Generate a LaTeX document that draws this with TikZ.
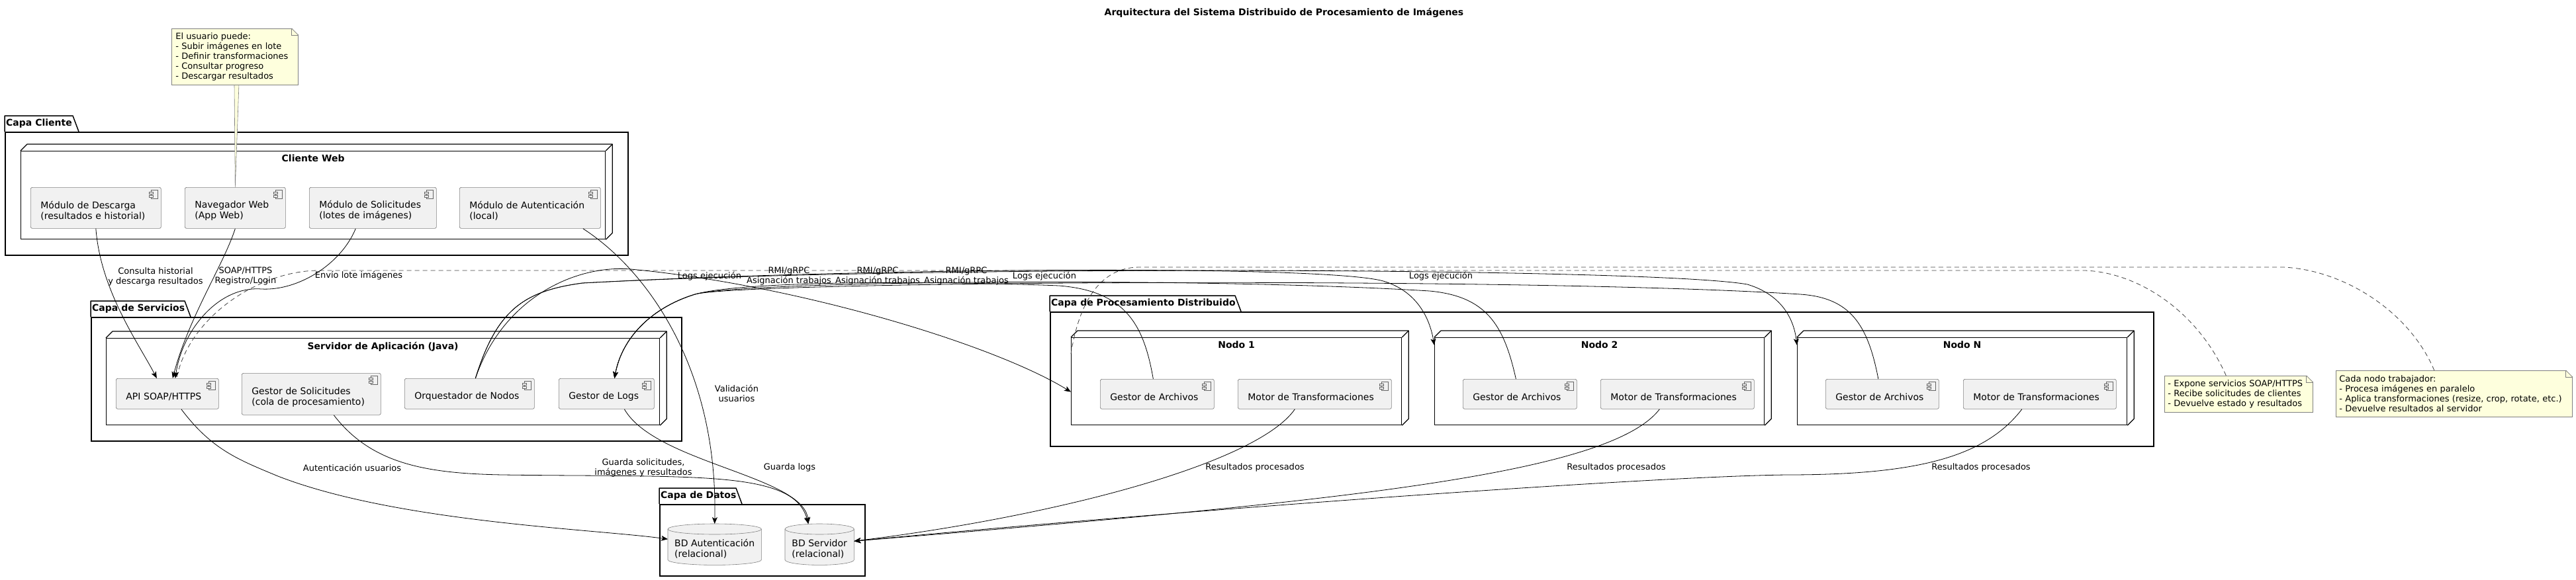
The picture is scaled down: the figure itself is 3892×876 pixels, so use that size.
\documentclass[tikz,border=0pt]{standalone}
\usepackage{fontspec}
\setmainfont{DejaVu Sans}
\usetikzlibrary{calc, positioning, arrows.meta, backgrounds}

\definecolor{compfill}{HTML}{F1F1F1}
\definecolor{notefill}{HTML}{FEFFDD}

% icono de componente
\newcommand{\compicon}[1]{%
  \draw[black!60, fill=compfill, line width=0.6pt] ($(#1.north east)+(-15,4)$) rectangle ++(10,13);
  \draw[black!60, fill=compfill, line width=0.6pt] ($(#1.north east)+(-18,7)$) rectangle ++(6,3);
  \draw[black!60, fill=compfill, line width=0.6pt] ($(#1.north east)+(-18,12)$) rectangle ++(6,3);
}
% caja 3D de nodo
\newcommand{\nodedepth}[1]{%
  \draw[line width=1.2pt, line join=round] (#1.north west) -- ++(10,-10)
    -- ($(#1.north east)+(10,-10)$) -- ($(#1.south east)+(10,-10)$) -- (#1.south east);
  \draw[line width=1.2pt] (#1.north east) -- ++(10,-10);
}
% pestana de paquete
\newcommand{\pkgtab}[2]{%
  \draw[line width=1.5pt, line join=round] (#1.north west) -- ++(0,-24) -- ++(#2-9,0) -- ++(9,24);
}
% esquina doblada de nota
\newcommand{\notefold}[1]{%
  \fill[white] ($(#1.north east)+(-10,-1)$) -- ($(#1.north east)+(1,-1)$) -- ($(#1.north east)+(1,10)$) -- cycle;
  \draw[black!50, line width=0.6pt] ($(#1.north east)+(-10,0)$) -- ($(#1.north east)+(0,10)$) -- (#1.south east);
  \draw[black!50, line width=0.6pt] ($(#1.north east)+(-10,0)$) |- ($(#1.north east)+(0,10)$);
}
% cilindro de base de datos
\newcommand{\dbcyl}[1]{%
  \begin{scope}[on background layer]
    \filldraw[fill=compfill, draw=black!50, line width=0.6pt] let \p1=($(#1.north east)-(#1.north west)$) in
      ($(#1.north west)+(0,-6)$) -- ($(#1.south west)+(0,-8)$)
      arc[start angle=180, end angle=360, x radius=0.5*\x1, y radius=8pt]
      -- ($(#1.north east)+(0,-6)$)
      arc[start angle=0, end angle=180, x radius=0.5*\x1, y radius=8pt] -- cycle;
    \draw[black!50, line width=0.6pt] let \p1=($(#1.north east)-(#1.north west)$) in
      ($(#1.north west)+(0,-6)$) arc[start angle=180, end angle=360, x radius=0.5*\x1, y radius=8pt];
  \end{scope}
}

\begin{document}
\begin{tikzpicture}[x=1pt, y=-1pt,
  comp/.style={draw=black!50, fill=compfill, line width=0.7pt, rounded corners=2.5pt, anchor=north west,
    align=left, inner xsep=15pt, inner ysep=0pt, font=\fontsize{14}{16}\selectfont,
    execute at begin node={\rule{0pt}{20pt}}},
  nodebox/.style={draw, line width=1.2pt, anchor=north west},
  nodetitle/.style={font=\bfseries\fontsize{14}{16}\selectfont, inner sep=0pt},
  pkgframe/.style={draw, line width=1.5pt, anchor=north west},
  pkglabel/.style={font=\bfseries\fontsize{14}{16}\selectfont, inner sep=0pt, anchor=west},
  note/.style={draw=black!50, fill=notefill, line width=0.6pt, anchor=north west, align=left,
    inner xsep=6pt, inner ysep=0pt, font=\fontsize{13}{15}\selectfont},
  dbnode/.style={anchor=north west, align=left, inner sep=0pt, font=\fontsize{14}{16}\selectfont},
  lbl/.style={font=\fontsize{13}{15}\selectfont, align=center, inner sep=0pt},
  link/.style={line width=0.8pt, -{Stealth[length=10pt, width=8pt, inset=2.5pt]}},
  notelink/.style={line width=0.8pt, black!75, dash pattern=on 7pt off 5pt},
]
\useasboundingbox (0,0) rectangle (3892,876);

\node[font=\bfseries\fontsize{14}{16}\selectfont] (titulo) at (1940,19)
  {Arquitectura del Sistema Distribuido de Procesamiento de Imágenes};

% Capa Cliente
\node[pkgframe, minimum width=941pt, minimum height=186pt] (capaCliente) at (7,199) {};
\pkgtab{capaCliente}{112}
\node[pkglabel] (capaClienteL) at ($(capaCliente.north west)+(2,-12)$) {Capa Cliente};
\node[nodebox, minimum width=883pt, minimum height=133pt] (cweb) at (31,228) {};
\nodedepth{cweb}
\node[nodetitle, below=6pt of cweb.north] (cwebT) {Cliente Web};
\node[comp, minimum width=197pt, minimum height=62pt, text width=167pt] (descarga) at (46,283)
  {Módulo de Descarga\\(resultados e historial)};
\node[comp, minimum width=152pt, minimum height=62pt, text width=122pt] (navegador) at (279,283)
  {Navegador Web\\(App Web)};
\node[comp, minimum width=192pt, minimum height=62pt, text width=162pt] (solicitudes) at (467,283)
  {Módulo de Solicitudes\\(lotes de imágenes)};
\node[comp, minimum width=213pt, minimum height=62pt, text width=183pt] (autenticacion) at (694,283)
  {Módulo de Autenticación\\(local)};

% Capa de Servicios
\node[pkgframe, minimum width=892pt, minimum height=187pt] (capaServicios) at (137,479) {};
\pkgtab{capaServicios}{151}
\node[pkglabel] (capaServiciosL) at ($(capaServicios.north west)+(2,-12)$) {Capa de Servicios};
\node[nodebox, minimum width=836pt, minimum height=131pt] (servidor) at (160,511) {};
\nodedepth{servidor}
\node[nodetitle, below=6pt of servidor.north] (servidorT) {Servidor de Aplicación (Java)};
\node[comp, minimum width=155pt, minimum height=46pt, text width=125pt] (api) at (175,572) {API SOAP/HTTPS};
\node[comp, minimum width=210pt, minimum height=63pt, text width=180pt] (gsolic) at (365,564)
  {Gestor de Solicitudes\\(cola de procesamiento)};
\node[comp, minimum width=196pt, minimum height=46pt, text width=166pt] (orq) at (611,572) {Orquestador de Nodos};
\node[comp, minimum width=144pt, minimum height=46pt, text width=114pt] (glogs) at (844,572) {Gestor de Logs};

% Capa de Procesamiento Distribuido
\node[pkgframe, minimum width=1667pt, minimum height=203pt] (capaProc) at (1586,471) {};
\pkgtab{capaProc}{289}
\node[pkglabel] (capaProcL) at ($(capaProc.north west)+(2,-12)$) {Capa de Procesamiento Distribuido};
\node[nodebox, minimum width=499pt, minimum height=132pt] (nodo1) at (1618,510) {};
\node[nodebox, minimum width=498pt, minimum height=132pt] (nodo2) at (2167,510) {};
\node[nodebox, minimum width=498pt, minimum height=132pt] (nodoN) at (2715,510) {};
\foreach \n in {nodo1, nodo2, nodoN} {\nodedepth{\n}}
\node[nodetitle, below=6pt of nodo1.north] (nodo1T) {Nodo 1};
\node[nodetitle, below=6pt of nodo2.north] (nodo2T) {Nodo 2};
\node[nodetitle, below=6pt of nodoN.north] (nodoNT) {Nodo N};
\node[comp, minimum width=172pt, minimum height=45pt, text width=142pt] (ga1) at (1662,573) {Gestor de Archivos};
\node[comp, minimum width=232pt, minimum height=45pt, text width=202pt] (motor1) at (1870,573) {Motor de Transformaciones};
\node[comp, minimum width=172pt, minimum height=45pt, text width=142pt] (ga2) at (2210,573) {Gestor de Archivos};
\node[comp, minimum width=232pt, minimum height=45pt, text width=202pt] (motor2) at (2418,573) {Motor de Transformaciones};
\node[comp, minimum width=171pt, minimum height=45pt, text width=141pt] (gaN) at (2758,573) {Gestor de Archivos};
\node[comp, minimum width=231pt, minimum height=45pt, text width=201pt] (motorN) at (2966,573) {Motor de Transformaciones};

\foreach \c in {descarga, navegador, solicitudes, autenticacion, api, gsolic, orq, glogs,
  ga1, motor1, ga2, motor2, gaN, motorN} {\compicon{\c}}

% Capa de Datos
\node[pkgframe, minimum width=310pt, minimum height=108pt] (capaDatos) at (996,762) {};
\pkgtab{capaDatos}{125}
\node[pkglabel] (capaDatosL) at ($(capaDatos.north west)+(2,-12)$) {Capa de Datos};
\node[dbnode, minimum width=141pt, minimum height=48pt] (bdauth) at (1009,806) {BD Autenticación\\(relacional)};
\node[dbnode, minimum width=104pt, minimum height=48pt] (bdserv) at (1186,806) {BD Servidor\\(relacional)};
\dbcyl{bdauth}
\dbcyl{bdserv}

% notas
\filldraw[fill=notefill, draw=black!50, line width=0.6pt] (354,127) -- (navegador.north) -- (361,127);
\node[note, minimum width=191pt, minimum height=85pt, text width=179pt] (note0) at (259,43)
  {El usuario puede:\\- Subir imágenes en lote\\- Definir transformaciones\\- Consultar progreso\\- Descargar resultados};
\node[note, minimum width=224pt, minimum height=55pt, text width=214pt, inner xsep=5pt] (note1) at (3270,568)
  {- Expone servicios SOAP/HTTPS\\- Recibe solicitudes de clientes\\- Devuelve estado y resultados};
\node[note, minimum width=357pt, minimum height=70pt, text width=347pt, inner xsep=5pt] (note2) at (3529,560)
  {Cada nodo trabajador:\\- Procesa imágenes en paralelo\\- Aplica transformaciones (resize, crop, rotate, etc.)\\- Devuelve resultados al servidor};
\foreach \m in {note0, note1, note2} {\notefold{\m}}

\draw[notelink] ($(note1.north)+(-19,0)$) .. controls (3320,470) and (3230,412) .. (3150,409)
  -- (480,409) .. controls (390,410) and (285,480) .. ($(api.north)+(14,0)$);
\draw[notelink] ($(note2.north)+(-30,0)$) .. controls (3640,470) and (3540,408) .. (3450,404)
  -- (1720,404) .. controls (1660,405) and (1630,460) .. ($(nodo1.north west)+(0,25)$);

% conexiones cliente - servicios
\draw[link] (descarga.south) .. controls (152,440) and (210,520) .. ($(api.north)+(-16,0)$);
\draw[link] (navegador.south) .. controls (338,400) and (285,480) .. ($(api.north)+(8,0)$);
\draw[link] ($(solicitudes.south)+(-26,0)$) .. controls (515,400) and (450,440) .. (395,437)
  .. controls (330,432) and (275,500) .. ($(api.north)+(12,0)$);
\draw[link] ($(autenticacion.south)+(80,0)$) .. controls (980,410) and (1085,560) .. ($(bdauth.north)+(0,-14)$);

\node[lbl] (lbConsulta) at (235,418) {Consulta historial\\y descarga resultados};
\node[lbl] (lbSoap) at (371,418) {SOAP/HTTPS\\Registro/Login};
\node[lbl] (lbEnvio) at (542,417) {Envío lote imágenes};
\node[lbl] (lbValida) at (1113,595) {Validación\\usuarios};

% orquestador - nodos
\draw[link] ($(orq.north)+(9,0)$) .. controls (760,450) and (870,400) .. (953,407)
  .. controls (1200,430) and (1500,520) .. ($(nodo1.west)+(0,16)$);
\draw[link] ($(orq.north)+(9,0)$) .. controls (750,470) and (790,440) .. (880,428)
  .. controls (1300,405) and (2000,400) .. (2090,425) .. controls (2140,440) and (2160,480) .. ($(nodo2.north west)+(0,12)$);
\draw[link] ($(orq.north)+(9,0)$) .. controls (750,470) and (790,440) .. (880,428)
  .. controls (1400,400) and (2500,405) .. (2640,430) .. controls (2690,445) and (2710,480) .. ($(nodoN.north west)+(0,12)$);

% logs de ejecucion
\draw[link] ($(ga1.north)+(-6,0)$) .. controls (1728,490) and (1700,440) .. (1600,432)
  .. controls (1400,424) and (1120,425) .. (1050,445) .. controls (985,465) and (940,510) .. ($(glogs.north)+(12,0)$);
\draw[link] ($(ga2.north)+(-6,0)$) .. controls (2272,490) and (2245,448) .. (2160,440)
  .. controls (1800,418) and (1120,425) .. (1050,445) .. controls (985,465) and (940,510) .. ($(glogs.north)+(12,0)$);
\draw[link] ($(gaN.north)+(-6,0)$) .. controls (2822,490) and (2795,450) .. (2720,445)
  .. controls (2300,418) and (1120,425) .. (1050,445) .. controls (985,465) and (940,510) .. ($(glogs.north)+(12,0)$);

\node[lbl] (lbLogs3) at (1072,418) {Logs ejecución};
\node[lbl] (lbRmi1) at (1192,418) {RMI/gRPC\\Asignación trabajos};
\node[lbl] (lbRmi2) at (1326,418) {RMI/gRPC\\Asignación trabajos};
\node[lbl] (lbRmi3) at (1460,418) {RMI/gRPC\\Asignación trabajos};
\node[lbl] (lbLogs1) at (1578,418) {Logs ejecución};
\node[lbl] (lbLogs2) at (2177,418) {Logs ejecución};

% servicios - datos
\draw[link] ($(api.south)+(21,0)$) .. controls (320,680) and (360,695) .. (420,720)
  .. controls (600,790) and (900,800) .. ($(bdauth.west)+(0,-15)$);
\draw[link] ($(gsolic.south)+(34,0)$) .. controls (560,700) and (640,716) .. (760,718)
  .. controls (1050,722) and (1200,710) .. ($(bdserv.north)+(-17,-14)$);
\draw[link] ($(glogs.south)+(27,0)$) .. controls (990,700) and (1215,720) .. ($(bdserv.north)+(-17,-14)$);

\node[lbl] (lbAuth) at (532,707) {Autenticación usuarios};
\node[lbl] (lbGuarda) at (972,707) {Guarda solicitudes,\\imágenes y resultados};
\node[lbl] (lbGLogs) at (1193,707) {Guarda logs};

% resultados de los nodos
\draw[link] ($(motor1.south)+(-30,0)$) .. controls (1900,700) and (1600,780) .. ($(bdserv.east)+(0,-12)$);
\draw[link] ($(motor2.south)+(-27,0)$) .. controls (2430,720) and (2000,760) .. ($(bdserv.east)+(0,-12)$);
\draw[link] ($(motorN.south)+(-27,0)$) .. controls (3000,690) and (2900,718) .. (2700,718)
  .. controls (2500,720) and (1800,770) .. ($(bdserv.east)+(0,-12)$);

\node[lbl] (lbRes1) at (1896,707) {Resultados procesados};
\node[lbl] (lbRes2) at (2442,707) {Resultados procesados};
\node[lbl] (lbRes3) at (2993,707) {Resultados procesados};
\end{tikzpicture}
\end{document}
